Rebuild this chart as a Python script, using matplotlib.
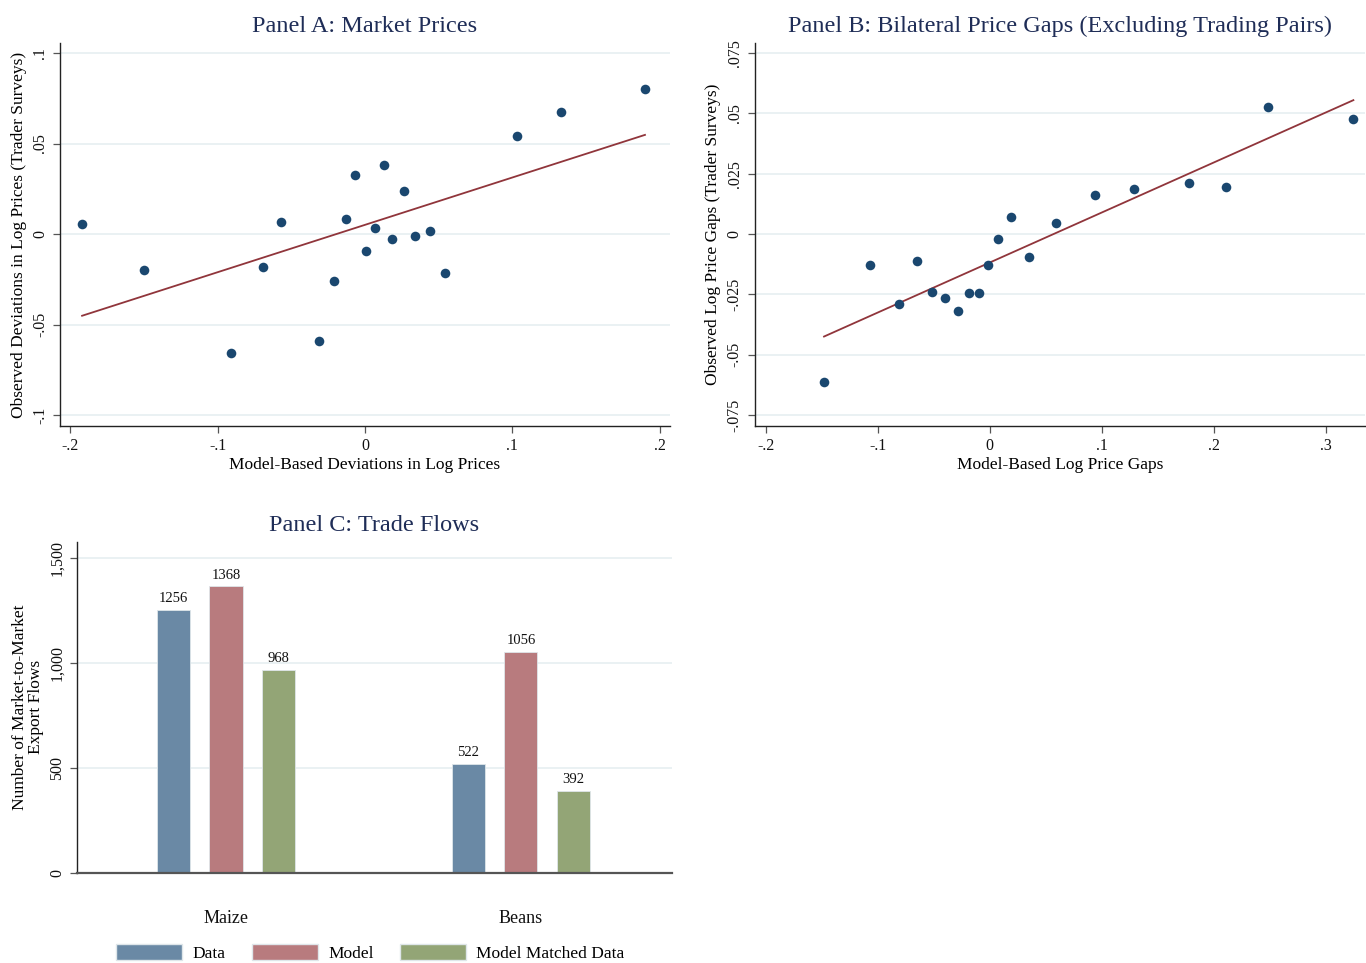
import numpy as np
import matplotlib
matplotlib.use("Agg")
import matplotlib.pyplot as plt
from matplotlib.ticker import FuncFormatter, FixedLocator
from matplotlib.patches import Patch

plt.rcParams['font.family'] = ['Liberation Serif', 'DejaVu Serif']

# ── Panel A: market prices (model vs. trader surveys) ──
a_model = [-0.192, -0.150, -0.091, -0.069, -0.057, -0.031, -0.021, -0.013, -0.0065, 0.0006,
           0.0068, 0.0127, 0.0186, 0.0265, 0.0339, 0.044, 0.054, 0.103, 0.1333, 0.190]
a_obs = [0.0053, -0.0199, -0.0655, -0.0182, 0.0064, -0.059, -0.0258, 0.0086, 0.0329, -0.0092,
         0.0035, 0.0379, -0.0028, 0.0237, -0.0011, 0.0017, -0.0217, 0.0543, 0.0672, 0.0802]
a_fit = (0.2615, 0.0051)   # slope, intercept of the linear fit

# ── Panel B: bilateral price gaps ──
b_model = [-0.148, -0.1073, -0.0815, -0.065, -0.0515, -0.0396, -0.0288, -0.0188, -0.0096, -0.0015,
           0.0077, 0.0185, 0.035, 0.0592, 0.0938, 0.129, 0.1777, 0.2112, 0.2488, 0.3246]
b_obs = [-0.0615, -0.0127, -0.0292, -0.011, -0.0239, -0.0266, -0.0319, -0.0246, -0.0246, -0.0128,
         -0.0021, 0.0072, -0.0094, 0.0047, 0.0163, 0.0185, 0.0211, 0.0195, 0.0526, 0.0477]
b_fit = (0.2074, -0.0118)

# ── Panel C: trade flows ──
crops = ["Maize", "Beans"]
series = ["Data", "Model", "Model Matched Data"]
flows_data = [1256, 522]
flows_model = [1368, 1056]
flows_matched = [968, 392]

NAVY = "#1a476f"
MAROON = "#90353b"
TITLE_C = "#1f2d57"
GRID_C = "#e8f0f2"
BAR_COLORS = ["#6a89a5", "#b87b7e", "#93a576"]


def stata_num(v, pos=None):
    """Stata-style tick label: no leading zero (.05, -.1)."""
    if abs(v) < 1e-12:
        return "0"
    s = ("%g" % round(v, 4))
    s = s.replace("0.", ".")
    return s


def style_axis(ax):
    for side in ("top", "right"):
        ax.spines[side].set_visible(False)
    ax.spines["left"].set_color("#222222")
    ax.spines["bottom"].set_color("#222222")
    ax.spines["left"].set_linewidth(1.0)
    ax.spines["bottom"].set_linewidth(1.0)
    ax.tick_params(direction="out", length=5, width=0.9, color="#555555",
                   labelsize=11.5, labelcolor="#111111")
    ax.yaxis.grid(True, color=GRID_C, linewidth=1.3)
    ax.set_axisbelow(True)
    for lab in ax.get_yticklabels():
        lab.set_rotation(90)
        lab.set_va("center")


def scatter_panel(ax, x, y, fit, title, xlabel, ylabel, xticks, yticks, xlim, ylim):
    x = np.asarray(x)
    y = np.asarray(y)
    slope, icept = fit
    xs = np.array([x.min(), x.max()])
    ax.scatter(x, y, s=48, color=NAVY, zorder=3, linewidths=0)
    ax.plot(xs, icept + slope * xs, color=MAROON, lw=1.3, zorder=2)
    ax.set_xlim(*xlim)
    ax.set_ylim(*ylim)
    ax.xaxis.set_major_locator(FixedLocator(xticks))
    ax.yaxis.set_major_locator(FixedLocator(yticks))
    ax.xaxis.set_major_formatter(FuncFormatter(stata_num))
    ax.yaxis.set_major_formatter(FuncFormatter(stata_num))
    ax.set_title(title, fontsize=17.5, color=TITLE_C, pad=8)
    ax.set_xlabel(xlabel, fontsize=12.5, labelpad=2)
    ax.set_ylabel(ylabel, fontsize=12.5, labelpad=4)
    style_axis(ax)


fig = plt.figure(figsize=(13.66, 9.63), dpi=100)

ax_a = fig.add_axes([0.0439, 0.5576, 0.4466, 0.3977])
scatter_panel(ax_a, a_model, a_obs, a_fit, "Panel A: Market Prices",
              "Model-Based Deviations in Log Prices",
              "Observed Deviations in Log Prices (Trader Surveys)",
              [-0.2, -0.1, 0, 0.1, 0.2], [-0.1, -0.05, 0, 0.05, 0.1],
              (-0.207, 0.207), (-0.106, 0.1055))

ax_b = fig.add_axes([0.5524, 0.5576, 0.4469, 0.3977])
scatter_panel(ax_b, b_model, b_obs, b_fit,
              "Panel B: Bilateral Price Gaps (Excluding Trading Pairs)",
              "Model-Based Log Price Gaps",
              "Observed Log Price Gaps (Trader Surveys)",
              [-0.2, -0.1, 0, 0.1, 0.2, 0.3], [-0.075, -0.05, -0.025, 0, 0.025, 0.05, 0.075],
              (-0.210, 0.335), (-0.0796, 0.0792))

# ── Panel C: grouped bars ──
ax_c = fig.add_axes([0.0564, 0.0935, 0.4355, 0.3440])
pos = np.arange(len(crops))
offset = 0.178
width = 0.112
for k, (vals, name, col) in enumerate(zip([flows_data, flows_model, flows_matched],
                                          series, BAR_COLORS)):
    xs = pos + (k - 1) * offset
    ax_c.bar(xs, vals, width=width, color=col, edgecolor="#dfe6ea", linewidth=0.6,
             label=name, zorder=2)
    for xi, v in zip(xs, vals):
        ax_c.text(xi, v + 22, f"{v}", ha="center", va="bottom", fontsize=10.5,
                  color="#111111")

ax_c.set_xlim(-0.505, 1.512)
ax_c.set_ylim(0, 1580)
ax_c.yaxis.set_major_locator(FixedLocator([0, 500, 1000, 1500]))
ax_c.yaxis.set_major_formatter(FuncFormatter(lambda v, p: f"{int(v):,}"))
ax_c.set_xticks(pos)
ax_c.set_xticklabels(crops)
ax_c.set_title("Panel C: Trade Flows", fontsize=17.5, color=TITLE_C, pad=8)
ax_c.set_ylabel("Number of Market-to-Market\nExport Flows", fontsize=12.5,
                labelpad=4, linespacing=0.95)
style_axis(ax_c)
ax_c.spines["bottom"].set_color("#555555")
ax_c.spines["bottom"].set_linewidth(1.6)
ax_c.tick_params(axis="x", length=0, pad=27, labelsize=13)

handles = [Patch(facecolor=c, edgecolor="#dfe6ea") for c in BAR_COLORS]
fig.legend(handles, series, loc="center", bbox_to_anchor=(0.271, 0.0104),
           ncol=3, frameon=False, fontsize=12.5, handlelength=3.8, handleheight=1.0,
           columnspacing=1.5, handletextpad=0.6, borderpad=0.1)

fig.savefig("out.png", dpi=100)
